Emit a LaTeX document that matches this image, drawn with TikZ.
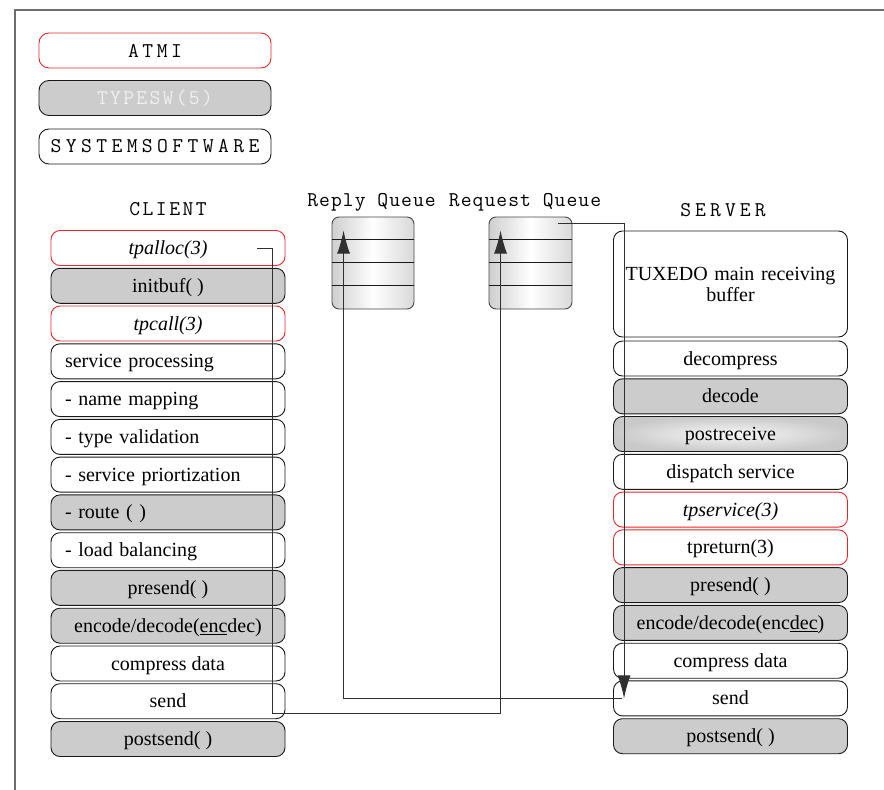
\documentclass[tikz,border=0pt]{standalone}
\usepackage{fontspec}
\setmainfont{Liberation Serif}
\newfontfamily\tuxmono{Latin Modern Mono}
\usetikzlibrary{arrows.meta,positioning}
\definecolor{tuxred}{RGB}{228, 40, 40}
\definecolor{tuxgray}{RGB}{204, 204, 204}
\definecolor{tuxline}{RGB}{25, 25, 25}
\definecolor{tuxframe}{RGB}{110, 110, 110}

\tikzset{
  tuxbox/.style={draw=tuxline, line width=0.9pt, rounded corners=9pt, minimum width=234pt,
    minimum height=35pt, inner sep=0pt, font=\fontsize{20}{21}\selectfont},
  plainrow/.style={tuxbox, text height=15pt, text depth=2pt},
  grayrow/.style={plainrow, fill=tuxgray},
  redrow/.style={plainrow, draw=tuxred},
  shinyrow/.style={plainrow, inner color=gray!6, outer color=gray!42},
  leftrow/.style={text width=206pt, align=left, inner xsep=14pt},
  legendbox/.style={draw=tuxline, line width=0.9pt, rounded corners=10pt, minimum width=232pt,
    minimum height=35pt, inner sep=0pt, font=\tuxmono\fontsize{21}{22}\selectfont},
  queuebox/.style={draw=tuxline!80, line width=0.9pt, rounded corners=7pt, minimum width=82pt,
    minimum height=92pt, left color=gray!38, right color=gray!30, middle color=white},
  title/.style={anchor=base, font=\tuxmono\fontsize{21}{22}\selectfont},
  conn/.style={draw=tuxline!90, line width=1pt},
  tip/.style={-{Latex[length=23pt,width=13pt]}}
}

\begin{document}
\begin{tikzpicture}[x=1pt, y=-1pt]
    \useasboundingbox (0,0) rectangle (884,790);
    % frame
    \draw[tuxframe, line width=1.3pt] (15,790) -- (15,10) -- (884,10);

    % legend
    \node[legendbox, draw=tuxred] (atmi) at (155,50.5) {\addfontfeature{LetterSpace=17}ATMI};
    \node[legendbox, fill=tuxgray, text=gray!12] (typesw) at (155,98) {\addfontfeature{LetterSpace=11}TYPESW(5)};
    \node[legendbox] (syssw) at (155,146.5) {\addfontfeature{LetterSpace=21}SYSTEMSOFTWARE};

    % titles
    \node[title] (clientlbl) at (168,215) {\addfontfeature{LetterSpace=12}CLIENT};
    \node[title] (serverlbl) at (723,216) {\addfontfeature{LetterSpace=19.5}SERVER};
    \node[title] (replylbl) at (371.5,206) {\addfontfeature{LetterSpace=5}Reply Queue};
    \node[title] (requestlbl) at (525,206) {\addfontfeature{LetterSpace=5}Request Queue};

    % client column
    \node[redrow] (tpalloc) at (168,248) {\textit{tpalloc(3)}};
    \node[grayrow] (initbuf) at (168,285.8) {initbuf( )};
    \node[redrow] (tpcall) at (168,323.5) {\textit{tpcall(3)}};
    \node[plainrow, leftrow] (svcproc) at (168,361.3) {service processing};
    \node[plainrow, leftrow] (namemap) at (168,399.1) {- name mapping};
    \node[plainrow, leftrow] (typeval) at (168,436.9) {- type validation};
    \node[plainrow, leftrow] (svcprio) at (168,474.6) {- service priortization};
    \node[grayrow, leftrow] (route) at (168,512.4) {- route ( )};
    \node[plainrow, leftrow] (loadbal) at (168,550.2) {- load balancing};
    \node[grayrow] (cpresend) at (168,587.9) {presend( )};
    \node[grayrow] (cencdec) at (168,625.7) {encode/decode(\underline{enc}dec)};
    \node[plainrow] (ccompress) at (168,663.5) {compress data};
    \node[plainrow] (csend) at (168,701.2) {send};
    \node[grayrow] (cpostsend) at (168,739) {postsend( )};

    % queues
    \node[queuebox] (replyq) at (373,263) {};
    \node[queuebox, minimum width=83pt] (reqq) at (530.5,263) {};
    \foreach \q in {replyq, reqq} {
        \foreach \d in {23,46,69} {
            \draw[tuxline, line width=0.9pt] ([yshift=-\d pt]\q.north west) -- ([yshift=-\d pt]\q.north east);
        }
    }

    % server column
    \node[tuxbox, minimum height=106pt, text width=226pt, align=center] (mainbuf) at (730.5,284)
        {TUXEDO main receiving\\buffer};
    \node[plainrow] (decomp) at (730.5,358.5) {decompress};
    \node[grayrow] (decode) at (730.5,396.3) {decode};
    \node[shinyrow] (postrecv) at (730.5,434) {postreceive};
    \node[plainrow] (dispatch) at (730.5,471.8) {dispatch service};
    \node[redrow] (tpservice) at (730.5,509.6) {\textit{tpservice(3)}};
    \node[redrow] (tpreturn) at (730.5,547.4) {tpreturn(3)};
    \node[grayrow] (spresend) at (730.5,585.1) {presend( )};
    \node[grayrow] (sencdec) at (730.5,622.9) {encode/decode(enc\underline{dec})};
    \node[plainrow] (scompress) at (730.5,660.7) {compress data};
    \node[plainrow] (ssend) at (730.5,698.4) {send};
    \node[grayrow] (spostsend) at (730.5,736.2) {postsend( )};

    % message flow
    \coordinate (clientdrop) at (272,713);
    \draw[conn, tip] ([xshift=-28pt]tpalloc.east) -| (clientdrop)
        -| ([xshift=12pt, yshift=-14pt]reqq.north west);
    \draw[conn, tip] ([xshift=-14pt, yshift=-7pt]reqq.north east) -| ([xshift=11pt]ssend.west);
    \draw[conn, tip] ([xshift=9pt]ssend.west) -| ([xshift=12pt, yshift=-14pt]replyq.north west);
\end{tikzpicture}
\end{document}
